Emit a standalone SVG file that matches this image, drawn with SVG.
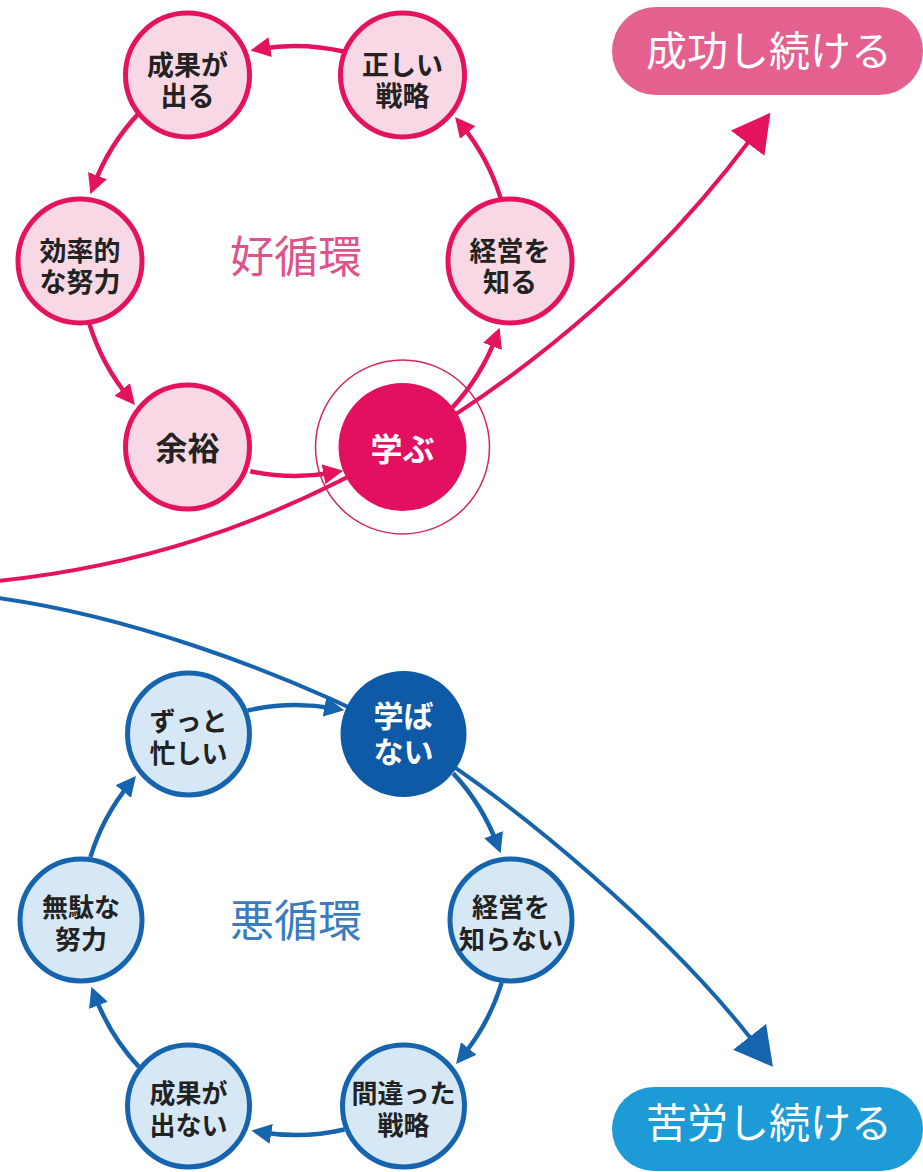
<svg xmlns="http://www.w3.org/2000/svg" width="923" height="1172" viewBox="0 0 923 1172">
<style>
text{font-family:"Noto Sans CJK JP","Noto Sans",sans-serif;text-anchor:middle}
.pn{fill:#f8d8e4;stroke:#e4125f;stroke-width:5}
.bn{fill:#d6e8f6;stroke:#1663ae;stroke-width:5}
.lbl{font-size:27px;font-weight:700;fill:#222}
.lblb{font-size:26px;font-weight:700;fill:#222}
.big{font-size:32px;font-weight:700}
.pc{fill:none;stroke:#e4125f;stroke-width:4.5}
.bc{fill:none;stroke:#1663ae;stroke-width:4.5}
.pl{fill:none;stroke:#e4125f;stroke-width:4}
.bl{fill:none;stroke:#1663ae;stroke-width:4}
.title{font-size:44px;font-weight:400}
.pill{font-size:41px;font-weight:400;fill:#fff}
</style>
<defs>
<marker id="ahP" markerUnits="userSpaceOnUse" markerWidth="20" markerHeight="20" viewBox="0 0 20 20" refX="10" refY="10" orient="auto"><path d="M0,0 L20,10 L0,20 z" fill="#e4125f"/></marker>
<marker id="ahB" markerUnits="userSpaceOnUse" markerWidth="20" markerHeight="20" viewBox="0 0 20 20" refX="10" refY="10" orient="auto"><path d="M0,0 L20,10 L0,20 z" fill="#1663ae"/></marker>
<marker id="bigP" markerUnits="userSpaceOnUse" markerWidth="38" markerHeight="42" viewBox="0 0 38 42" refX="4" refY="21" orient="auto"><path d="M0,0 L38,21 L0,42 z" fill="#e4125f"/></marker>
<marker id="bigB" markerUnits="userSpaceOnUse" markerWidth="38" markerHeight="42" viewBox="0 0 38 42" refX="4" refY="21" orient="auto"><path d="M0,0 L38,21 L0,42 z" fill="#1663ae"/></marker>
</defs>
<rect width="923" height="1172" fill="#fff"/>

<g id="connectors">
<path class="pl" d="M-2,581 C130,567 260,530 402.5,447 C540,367 660,260 750,140" marker-end="url(#bigP)"/>
<path class="bl" d="M-2,598 C120,615 270,665 403.5,734 C520,805 670,935 752,1040" marker-end="url(#bigB)"/>
<path class="pc" d="M343.4,51.5 A215,215 0 0 0 260.3,48.8" marker-end="url(#ahP)"/>
<path class="pc" d="M137.8,114.4 A215,215 0 0 0 93.9,185.0" marker-end="url(#ahP)"/>
<path class="pc" d="M89.4,323.9 A215,215 0 0 0 128.6,397.2" marker-end="url(#ahP)"/>
<path class="pc" d="M250.3,471.3 A215,215 0 0 0 333.4,472.5" marker-end="url(#ahP)"/>
<path class="pc" d="M452.3,407.6 A215,215 0 0 0 496.1,337.0" marker-end="url(#ahP)"/>
<path class="pc" d="M500.6,198.1 A215,215 0 0 0 461.4,124.8" marker-end="url(#ahP)"/>
<path class="bc" d="M247.6,710.5 A215,215 0 0 1 334.4,708.5" marker-end="url(#ahB)"/>
<path class="bc" d="M453.2,773.4 A215,215 0 0 1 497.1,844.0" marker-end="url(#ahB)"/>
<path class="bc" d="M501.6,982.9 A215,215 0 0 1 462.4,1056.2" marker-end="url(#ahB)"/>
<path class="bc" d="M344.4,1129.5 A215,215 0 0 1 261.3,1132.2" marker-end="url(#ahB)"/>
<path class="bc" d="M138.7,1066.6 A215,215 0 0 1 94.9,996.0" marker-end="url(#ahB)"/>
<path class="bc" d="M90.4,857.1 A215,215 0 0 1 129.6,783.8" marker-end="url(#ahB)"/>
</g>

<g id="title-good"><text class="title" x="296" y="273" fill="#e0528a">好循環</text></g>
<g id="title-bad"><text class="title" x="296" y="937" fill="#3a7cc0">悪循環</text></g>

<g id="n-seika"><circle class="pn" cx="187.5" cy="75" r="62"/><text class="lbl" x="187.5" y="75">成果が<tspan x="187.5" dy="31">出る</tspan></text></g>
<g id="n-tadashii"><circle class="pn" cx="402.5" cy="75" r="62"/><text class="lbl" x="402.5" y="75">正しい<tspan x="402.5" dy="31">戦略</tspan></text></g>
<g id="n-kouritsu"><circle class="pn" cx="80" cy="261" r="62"/><text class="lbl" x="80" y="261">効率的<tspan x="80" dy="31">な努力</tspan></text></g>
<g id="n-keiei"><circle class="pn" cx="510" cy="261" r="62"/><text class="lbl" x="510" y="261">経営を<tspan x="510" dy="31">知る</tspan></text></g>
<g id="n-yoyu"><circle class="pn" cx="187.5" cy="447" r="62"/><text class="lbl big" x="187.5" y="460">余裕</text></g>
<g id="n-manabu"><circle cx="402.5" cy="447" r="87" fill="none" stroke="#d4245f" stroke-width="1.5"/><circle cx="402.5" cy="447" r="64" fill="#e2105f"/><text class="big" x="402.5" y="461" fill="#fff">学ぶ</text></g>

<g id="n-manabanai"><circle cx="403.5" cy="734" r="63" fill="#0f5aa6"/><text x="403.5" y="727" font-size="30" font-weight="700" fill="#fff">学ば<tspan x="403.5" dy="36">ない</tspan></text></g>
<g id="n-isogashii"><circle class="bn" cx="188.5" cy="734" r="61"/><text class="lblb" x="188.5" y="731">ずっと<tspan x="188.5" dy="32">忙しい</tspan></text></g>
<g id="n-muda"><circle class="bn" cx="81" cy="920" r="61"/><text class="lblb" x="81" y="917">無駄な<tspan x="81" dy="32">努力</tspan></text></g>
<g id="n-seikanai"><circle class="bn" cx="188.5" cy="1106" r="61"/><text class="lblb" x="188.5" y="1103">成果が<tspan x="188.5" dy="32">出ない</tspan></text></g>
<g id="n-machigai"><circle class="bn" cx="403.5" cy="1106" r="61"/><text class="lblb" x="403.5" y="1103">間違った<tspan x="403.5" dy="32">戦略</tspan></text></g>
<g id="n-shiranai"><circle class="bn" cx="511" cy="920" r="61"/><text class="lblb" x="511" y="917">経営を<tspan x="511" dy="32">知らない</tspan></text></g>

<g id="p-seikou"><rect x="612" y="7" width="311" height="88" rx="44" fill="#e3608f"/><text class="pill" x="769" y="66">成功し続ける</text></g>
<g id="p-kurou"><rect x="612" y="1087" width="311" height="84" rx="42" fill="#1d9bd6"/><text class="pill" x="769" y="1138">苦労し続ける</text></g>
</svg>
